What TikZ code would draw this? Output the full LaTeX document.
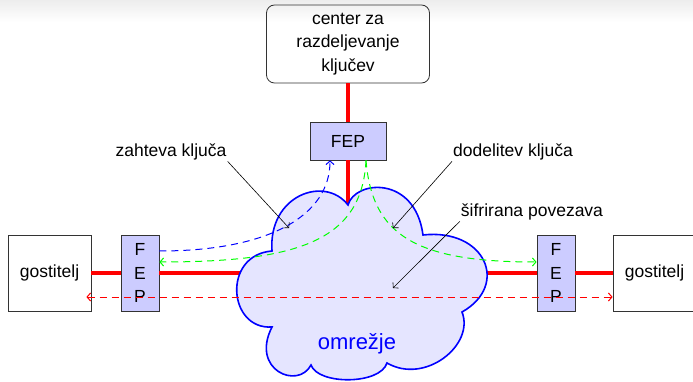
\documentclass[tikz,border=0pt]{standalone}
\usepackage{fontspec}
\setmainfont{Liberation Sans}
\usetikzlibrary{arrows.meta}
\begin{document}
\begin{tikzpicture}[x=1pt,y=-1pt,
  txt/.style={font=\fontsize{17.5}{23.5}\selectfont},
  box/.style={draw=black!80, line width=0.8pt, txt, inner sep=0pt, align=center},
  fep/.style={box, fill=blue!20},
  link/.style={draw=red, line width=3.2pt},
  dsh/.style={dash pattern=on 7pt off 5pt, line width=1pt},
  onetip/.style={arrows={-Straight Barb[length=3.5pt,width=8pt]}},
  twotips/.style={arrows={Straight Barb[length=3.5pt,width=8pt]-Straight Barb[length=3.5pt,width=8pt]}},
  note/.style={draw=black, line width=0.6pt, onetip},
  lbl/.style={txt, inner sep=1pt},
]
\useasboundingbox (0,0) rectangle (693,382);
\shade[top color=black!7, bottom color=white] (0,0) rectangle (693,22);

% nodes
\node[box, rounded corners=8pt, minimum width=163pt, minimum height=78pt] (kdc) at (348,44) {center za\\razdeljevanje\\ključev};
\node[fep, minimum width=76pt, minimum height=38pt] (fepT) at (348,141) {FEP};
\node[box, minimum width=83pt, minimum height=76pt] (hostL) at (49.5,273) {gostitelj};
\node[fep, minimum width=38pt, minimum height=76pt] (fepL) at (140,273) {F\\E\\P};
\node[fep, minimum width=38pt, minimum height=76pt] (fepR) at (556,273) {F\\E\\P};
\node[box, minimum width=83pt, minimum height=76pt] (hostR) at (654.5,273) {gostitelj};

% cloud attachment points
\coordinate (cA) at (348,212);
\coordinate (cL) at (242,273);
\coordinate (cR) at (480,273);

% solid red links
\draw[link] (kdc) -- (fepT);
\draw[link] (fepT) -- (cA);
\draw[link] (hostL) -- (fepL);
\draw[link] (fepL) -- (cL);
\draw[link] (cR) -- (fepR);
\draw[link] (fepR) -- (hostR);

% cloud
\draw[draw=blue, line width=1.6pt, fill=blue!10]
  (348,205) .. controls (355,180) and (415,175) .. (423,235)
  .. controls (485,228) and (510,285) .. (462,312)
  .. controls (475,345) and (425,385) .. (387,363)
  .. controls (380,385) and (318,385) .. (311,365)
  .. controls (298,390) and (250,370) .. (272,327)
  .. controls (228,330) and (222,255) .. (272,251)
  .. controls (268,195) and (325,175) .. (348,205) -- cycle;
\node[text=blue, font=\fontsize{22}{26}\selectfont] (net) at (357,344) {omrežje};

% dashed flows
\draw[draw=blue, dsh, onetip] ([yshift=22pt]fepL.east) .. controls (270,251) and (330,215) .. ([xshift=-18pt]fepT.south);
\draw[draw=green, dsh, onetip] ([xshift=18pt]fepT.south) .. controls (362,240) and (300,262) .. ([yshift=11pt]fepL.east);
\draw[draw=green, dsh, onetip] ([xshift=18pt]fepT.south) .. controls (372,235) and (415,262) .. ([yshift=11pt]fepR.west);
\draw[draw=red, dsh, twotips] ([xshift=-5pt,yshift=-24pt]hostL.east) -- ([yshift=-24pt]hostR.west);

% annotations
\node[lbl] (zah) at (171,152) {zahteva ključa};
\node[lbl] (dod) at (513,152) {dodelitev ključa};
\node[lbl] (sif) at (532,212) {šifrirana povezava};
\coordinate (zahT) at (289,228);
\coordinate (dodT) at (393,228);
\coordinate (sifT) at (393,288);
\draw[note] (zah.south east) -- (zahT);
\draw[note] (dod.south west) -- (dodT);
\draw[note] (sif.south west) -- (sifT);
\end{tikzpicture}
\end{document}
